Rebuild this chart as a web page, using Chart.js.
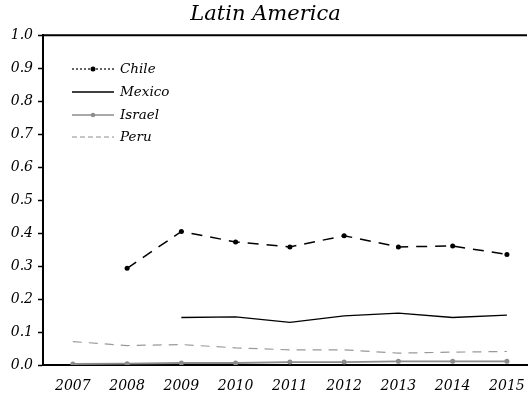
<!DOCTYPE html>
<html>
<head>
<meta charset="utf-8">
<script src="https://cdn.jsdelivr.net/npm/chart.js@4.4.1/dist/chart.umd.min.js"></script>
<style>
  html, body { margin: 0; padding: 0; background: #fff; }
  #wrap { width: 531px; height: 399px; }
</style>
</head>
<body>
<div id="wrap"><canvas id="c" width="531" height="399"></canvas></div>
<script>
// 데이터
const years = [2007, 2008, 2009, 2010, 2011, 2012, 2013, 2014, 2015];
const chile  = [null, 0.293, 0.405, 0.373, 0.358, 0.392, 0.358, 0.361, 0.335];
const mexico = [null, null, 0.144, 0.146, 0.129, 0.149, 0.157, 0.144, 0.151];
const israel = [0.003, 0.004, 0.006, 0.006, 0.009, 0.009, 0.011, 0.011, 0.011];
const peru   = [0.071, 0.059, 0.062, 0.052, 0.046, 0.046, 0.036, 0.039, 0.041];
const yTicks = [0, 0.1, 0.2, 0.3, 0.4, 0.5, 0.6, 0.7, 0.8, 0.9, 1.0];

const FONT = "'DejaVu Serif', serif";

// 기본 글꼴: 이탤릭 세리프
Chart.defaults.font.family = FONT;
Chart.defaults.font.style = "italic";

const toPoints = (arr) => years.map((y, i) => ({ x: y, y: arr[i] }));

// 범례 모양 (legend 그리는 방식)
const legendStyle = {
  Chile:  { dash: [2, 2], color: "#000", width: 1.2, dot: 2.5 },
  Mexico: { dash: [], color: "#000", width: 1.3, dot: 0 },
  Israel: { dash: [], color: "#8c8c8c", width: 1.6, dot: 2.2 },
  Peru:   { dash: [5, 3], color: "#8c8c8c", width: 1, dot: 0 },
};

// 범례 + 윗 테두리 플러그인
const extras = {
  id: "extras",
  afterDraw(chart) {
    const { ctx, chartArea } = chart;
    ctx.save();
    // top border
    ctx.strokeStyle = "#000";
    ctx.lineWidth = 2;
    ctx.beginPath();
    ctx.moveTo(chartArea.left - 1, chartArea.top);
    ctx.lineTo(chartArea.right, chartArea.top);
    ctx.stroke();

    // legend
    const rows = [69, 92, 115, 137];
    chart.data.datasets.forEach((ds, i) => {
      const st = legendStyle[ds.label];
      const y = rows[i];
      ctx.strokeStyle = st.color;
      ctx.lineWidth = st.width;
      ctx.setLineDash(st.dash);
      ctx.beginPath();
      ctx.moveTo(72, y);
      ctx.lineTo(114, y);
      ctx.stroke();
      ctx.setLineDash([]);
      if (st.dot) {
        ctx.fillStyle = st.color;
        ctx.beginPath();
        ctx.arc(93, y, st.dot, 0, Math.PI * 2);
        ctx.fill();
      }
      ctx.fillStyle = "#000";
      ctx.font = "italic 13.5px " + FONT;
      ctx.textBaseline = "middle";
      ctx.textAlign = "left";
      ctx.fillText(ds.label, 120, y);
    });
    ctx.restore();
  },
};

const data = {
  datasets: [
    {
      label: "Chile",
      data: toPoints(chile),
      borderColor: "#000",
      backgroundColor: "#000",
      borderWidth: 1.5,
      borderDash: [11, 8],
      pointRadius: 2.5,
      pointHoverRadius: 2.5,
      pointBorderWidth: 0,
    },
    {
      label: "Mexico",
      data: toPoints(mexico),
      borderColor: "#000",
      backgroundColor: "#000",
      borderWidth: 1.3,
      pointRadius: 0,
    },
    {
      label: "Israel",
      data: toPoints(israel),
      borderColor: "#8c8c8c",
      backgroundColor: "#8c8c8c",
      borderWidth: 1.8,
      pointRadius: 2.5,
      pointBorderWidth: 0,
    },
    {
      label: "Peru",
      data: toPoints(peru),
      borderColor: "#999",
      backgroundColor: "#999",
      borderWidth: 1.2,
      borderDash: [9, 7],
      pointRadius: 0,
    },
  ],
};

const config = {
  type: "line",
  data: data,
  options: {
    responsive: false,
    animation: false,
    layout: { padding: { left: 0, right: 0, top: 0, bottom: 0 } },
    scales: {
      x: {
        type: "linear",
        min: 2006.45,
        max: 2015.37,
        afterBuildTicks: (s) => { s.ticks = years.map((v) => ({ value: v })); },
        afterFit: (s) => { s.height = 34; s.paddingLeft = 0; s.paddingRight = 0; },
        grid: { display: false, drawTicks: false },
        border: { color: "#000", width: 2 },
        ticks: {
          callback: (v) => String(v),
          color: "#000",
          padding: 13,
          maxRotation: 0,
          font: { family: FONT, style: "italic", size: 14 },
        },
      },
      y: {
        min: 0,
        max: 1,
        afterBuildTicks: (s) => { s.ticks = yTicks.map((v) => ({ value: v })); },
        afterFit: (s) => { s.width = 43; s.paddingTop = 0; s.paddingBottom = 0; },
        grid: { drawOnChartArea: false, drawTicks: true, tickLength: 5, color: "#000", tickWidth: 1.5 },
        border: { color: "#000", width: 2 },
        ticks: {
          callback: (v) => v.toFixed(1),
          color: "#000",
          padding: 5,
          font: { family: FONT, style: "italic", size: 14 },
        },
      },
    },
    plugins: {
      legend: { display: false },
      tooltip: { enabled: false },
      title: {
        display: true,
        text: "Latin America",
        color: "#000",
        font: { family: FONT, style: "italic", size: 21, weight: "normal" },
        padding: { top: 2, bottom: 8 },
      },
    },
  },
  plugins: [extras],
};

const ctx = document.getElementById("c").getContext("2d");
new Chart(ctx, config);
</script>
</body>
</html>
